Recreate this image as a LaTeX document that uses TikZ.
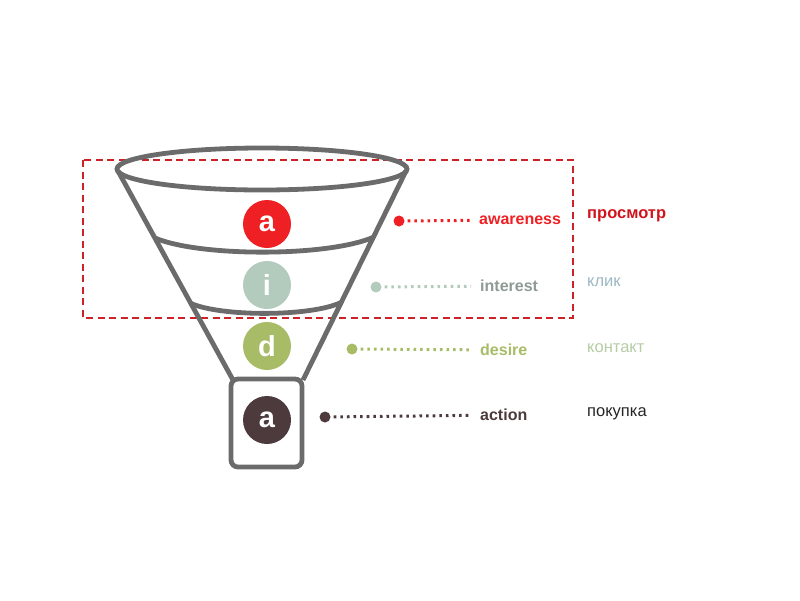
\documentclass[tikz,border=0pt]{standalone}
\usepackage{fontspec}
\setmainfont{Liberation Sans}
\usepackage{xcolor}
\usetikzlibrary{calc}
\definecolor{funnelgray}{HTML}{6B6B6B}
\definecolor{awred}{HTML}{EE2024}
\definecolor{ruawred}{HTML}{D0141E}
\definecolor{ingray}{HTML}{B2CBBD}
\definecolor{intext}{HTML}{8E9A94}
\definecolor{ruin}{HTML}{9CB8C2}
\definecolor{degreen}{HTML}{A8BC68}
\definecolor{rude}{HTML}{B6CCA6}
\definecolor{acbrown}{HTML}{4D3A3D}
\definecolor{boxred}{HTML}{CC2228}

\tikzset{
  funnel/.style={draw=funnelgray, line width=4.8pt},
  stage/.style={circle, fill=#1, minimum size=48pt, inner sep=0pt, text=white, font=\fontsize{29}{29}\selectfont\bfseries},
  dot/.style={circle, fill=#1, minimum size=11pt, inner sep=0pt},
  leader/.style={draw=#1, line width=3pt, dash pattern=on 2.6pt off 4pt, shorten <=3pt, shorten >=9pt},
  entext/.style={anchor=west, inner sep=0pt, text=#1, font=\fontsize{16}{16}\selectfont\bfseries},
  rutext/.style={anchor=west, inner sep=0pt, text=#1, font=\fontsize{16.5}{16}\selectfont}
}

\begin{document}
\begin{tikzpicture}[x=1pt, y=-1pt]
        \useasboundingbox (0, 0) rectangle (800, 600);

        \draw [boxred, line width=1.3pt, dash pattern=on 7pt off 4.5pt] (83, 160) rectangle (573, 318);

        \draw [funnel] (262, 169) ellipse [x radius=145, y radius=21];
        \draw [funnel] (118, 171) -- (233, 380) (406, 171) -- (303, 380);
        \draw [funnel] (155, 238) .. controls (200, 257) and (328, 257) .. (374, 237);
        \draw [funnel] (190, 303) .. controls (220, 317) and (312, 317) .. (342, 302);
        \draw [funnel, rounded corners=7pt] (231, 379) rectangle (302, 467);

        \node (aw) [stage=awred] at (267, 224) {a};
        \node (in) [stage=ingray] at (267, 285) {i};
        \node (de) [stage=degreen] at (267, 346) {d};
        \node (ac) [stage=acbrown] at (267, 420) {a};

        \node (aw dot) [dot=awred] at (399, 221) {};
        \node (aw text) [entext=awred] at (479, 220) {awareness};
        \node (aw ru) [rutext=ruawred, font=\fontsize{16.5}{16}\selectfont\bfseries] at (587, 216) {просмотр};
        \draw [leader=awred] (aw dot) -- (aw text);

        \node (in dot) [dot=ingray] at (376, 287) {};
        \node (in text) [entext=intext] at (480, 286) {interest};
        \node (in ru) [rutext=ruin] at (587, 282) {клик};
        \draw [leader=ingray] (in dot) -- (in text);

        \node (de dot) [dot=degreen] at (352, 349) {};
        \node (de text) [entext=degreen] at (480, 350) {desire};
        \node (de ru) [rutext=rude] at (587, 348) {контакт};
        \draw [leader=degreen] (de dot) -- (de text);

        \node (ac dot) [dot=acbrown] at (325, 417) {};
        \node (ac text) [entext=acbrown] at (480, 415) {action};
        \node (ac ru) [rutext=black!85] at (587, 414) {покупка};
        \draw [leader=acbrown] (ac dot) -- (ac text);
    \end{tikzpicture}
\end{document}
